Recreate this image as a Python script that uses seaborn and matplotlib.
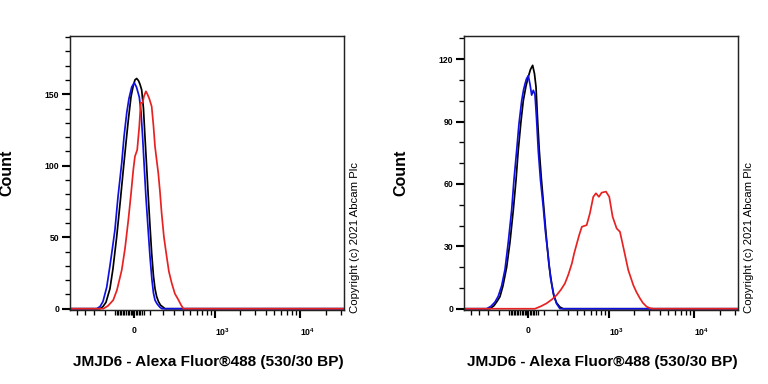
import numpy as np
import pandas as pd
import matplotlib
matplotlib.use("Agg")
import matplotlib.pyplot as plt
import seaborn as sns
from matplotlib.ticker import FixedLocator, FixedFormatter, NullFormatter

# ---------------- data (fluorescence intensity vs. count) ----------------
# Left panel
left_black_x = [-621, -240, -214.6, -189.8, -159, -136.8, -111, -88.6, -67, -49.8, -35, -18.6,
                -4.3, 6.2, 16.7, 27.9, 37.2, 48, 59.3, 69, 80, 90.5, 102, 113.5, 126, 137,
                149, 162.6, 178.2, 200.6, 214.6, 32500]
left_black_y = [0, 0, 1.5, 4.5, 14, 28, 50, 73, 97, 116, 132, 148,
                156, 160, 161, 159.5, 157, 153, 140, 120, 99, 78.5, 58, 39, 23, 14,
                8.5, 5, 2.5, 1, 0, 0]

left_blue_x = [-621, -271, -240, -214.6, -184, -159, -144, -123, -102, -77, -62.5, -45, -31,
               -14, 2, 15.5, 33, 43.5, 54, 64.5, 75, 88.6, 102, 115.6, 126, 137, 151.4, 174,
               189.8, 32500]
left_blue_y = [0, 0, 1.5, 5, 15, 30, 40, 55, 78, 102, 120, 137, 147,
               155, 158, 155, 148, 138, 120, 99, 78.5, 57, 36.6, 20, 11, 6, 3.5, 1,
               0, 0]

left_red_x = [-621, -212, -174, -135, -109, -77, -56, -35, -18.6, -4.3, 6, 20, 33, 42, 54,
              62.5, 75, 85, 97, 113.5, 126, 137, 149, 161, 174, 187, 206, 229, 249, 275,
              307, 344, 376, 404, 32500]
left_red_y = [0, 0, 2, 6, 13, 27, 42, 62, 80, 97, 106.5, 111, 127.5, 144, 144,
              148.5, 152, 150, 147, 141.5, 128, 113.5, 104, 95, 82, 67, 50, 36.6, 26, 18,
              10.5, 6.3, 2.5, 0, 0]

# Right panel
right_black_x = [-621, -278, -240, -214.6, -190, -166.5, -139, -115.6, -93, -75, -61, -43.5,
                 -29, -12.4, 2, 15.5, 29, 40.4, 50, 59.3, 71, 84, 97, 108.8, 120, 137, 157,
                 174, 196, 223, 252, 32500]
right_black_y = [0, 0, 1.5, 3.5, 5.8, 11, 20, 32, 47.5, 62, 76, 90,
                 100, 107, 111.5, 115, 117, 113, 106.7, 92, 76, 63, 52, 42, 33, 21, 12,
                 6, 2.7, 0.8, 0, 0]

right_blue_x = [-621, -311, -268, -232, -204, -176.7, -151, -127.5, -104, -88.6, -71, -56,
                -39, -27.9, -18.5, -9.3, 2, 12.4, 22.9, 33, 43.5, 53, 64.5, 78.7, 97, 112,
                132, 147.7, 169, 194, 223, 32500]
right_blue_y = [0, 0, 1.2, 3.2, 6, 11, 19, 32, 47.5, 62, 76, 89,
                100, 105, 108, 110.5, 112, 108, 102.7, 105, 103, 92, 76, 62, 49, 37,
                25, 15, 7.4, 2.5, 0, 0]

right_red_x = [-621, 43.5, 82, 120, 158.8, 196, 232, 268, 302, 339, 364, 397, 427, 462, 533,
               586, 645, 696, 757, 817, 921, 1009, 1107, 1236, 1352, 1479, 1695, 1941, 2116,
               2325, 2521, 2785, 3045, 3326, 32500]
right_red_y = [0, 0, 1.2, 2.6, 4.5, 6.6, 9.2, 12.2, 16.5, 21.8, 26.5, 31.4, 35.5, 39.4, 40.2,
               45.9, 53.8, 55.5, 53.8, 55.8, 56.3, 53.8, 44.2, 38.6, 37, 29.8, 18.6, 11.4, 8,
               5, 2.8, 1, 0.3, 0, 0]

x_major_ticks = [0, 1000, 10000]
x_major_labels = ["0", r"$\mathbf{10^{3}}$", r"$\mathbf{10^{4}}$"]
x_minor_ticks = ([-500, -400, -300, -200] + [v for v in range(-120, 70, 10) if v != 0]
                 + [100, 200, 300, 400, 500, 600, 700, 800, 900]
                 + [2000, 3000, 4000, 5000, 6000, 7000, 8000, 9000, 20000, 30000])

left_y_major = [0, 50, 100, 150]
right_y_major = [0, 30, 60, 90, 120]

x_label = "JMJD6 - Alexa Fluor®488 (530/30 BP)"
y_label = "Count"
copyright_text = "Copyright (c) 2021 Abcam Plc"

colors = {"black": "#000000", "blue": "#1010e0", "red": "#e82222"}

# ---------------- style ----------------
sns.set_style("ticks")
plt.rcParams['font.family'] = ['Liberation Sans', 'DejaVu Sans']
plt.rcParams['mathtext.fontset'] = 'custom'
plt.rcParams['mathtext.rm'] = 'Liberation Sans'
plt.rcParams['mathtext.bf'] = 'Liberation Sans:bold'
plt.rcParams['text.color'] = 'black'
plt.rcParams['axes.labelcolor'] = 'black'
plt.rcParams['xtick.color'] = 'black'
plt.rcParams['ytick.color'] = 'black'

C = 230.0
def fwd(x):
    return np.arcsinh(np.asarray(x, dtype=float) / C)
def inv(y):
    return C * np.sinh(np.asarray(y, dtype=float))

fig = plt.figure(figsize=(8, 4), dpi=96)
ax1 = fig.add_axes([70 / 768, 74 / 384, 274 / 768, 274 / 384])
ax2 = fig.add_axes([464 / 768, 74 / 384, 274 / 768, 274 / 384])

def frame(series, ax, ylim, ymajor, yminor_step):
    for name, xs, ys in series:
        df = pd.DataFrame({"x": xs, "y": ys})
        sns.lineplot(data=df, x="x", y="y", ax=ax, color=colors[name], lw=1.3,
                     estimator=None, sort=False)
    ax.set_xscale('function', functions=(fwd, inv))
    ax.set_xlim(-621, 32500)
    ax.set_ylim(*ylim)
    ax.xaxis.set_major_locator(FixedLocator(x_major_ticks))
    ax.xaxis.set_major_formatter(FixedFormatter(x_major_labels))
    ax.xaxis.set_minor_locator(FixedLocator(x_minor_ticks))
    ax.xaxis.set_minor_formatter(NullFormatter())
    ax.yaxis.set_major_locator(FixedLocator(ymajor))
    yminor = [v for v in np.arange(0, ylim[1], yminor_step) if v not in ymajor]
    ax.yaxis.set_minor_locator(FixedLocator(yminor))
    ax.tick_params(axis='both', which='major', direction='out', length=6, width=1.6,
                   labelsize=6.5, color='black', labelcolor='black')
    ax.tick_params(axis='both', which='minor', direction='out', length=3.5, width=1.0,
                   color='black')
    ax.tick_params(axis='x', which='major', pad=6)
    ax.tick_params(axis='y', which='major', pad=2)
    for lab in ax.get_xticklabels() + ax.get_yticklabels():
        lab.set_fontweight('bold')
    for i, t in enumerate(ax.xaxis.get_major_ticks()):
        if i > 0:
            t.label1.set_horizontalalignment('left')
    for s in ax.spines.values():
        s.set_visible(True)
        s.set_color('#222222')
        s.set_linewidth(1.1)
    ax.set_xlabel(x_label, fontsize=11.5, fontweight='bold', color='black')
    ax.xaxis.label.set_va('center')
    ax.xaxis.set_label_coords(0.505, -0.19)
    ax.set_ylabel(y_label, fontsize=12, fontweight='bold', color='black')
    ax.yaxis.label.set_va('center')
    ax.yaxis.set_label_coords(-0.23, 0.5)
    ax.text(1.0 + 11 / 274, -0.011, copyright_text, rotation=90, transform=ax.transAxes,
            ha='center', va='bottom', fontsize=8.5, color='black')

frame([("black", left_black_x, left_black_y),
       ("blue", left_blue_x, left_blue_y),
       ("red", left_red_x, left_red_y)], ax1, (-0.9, 190.7), left_y_major, 10)
frame([("black", right_black_x, right_black_y),
       ("blue", right_blue_x, right_blue_y),
       ("red", right_red_x, right_red_y)], ax2, (-0.6, 131.1), right_y_major, 10)

fig.savefig("out.png", dpi=96)
